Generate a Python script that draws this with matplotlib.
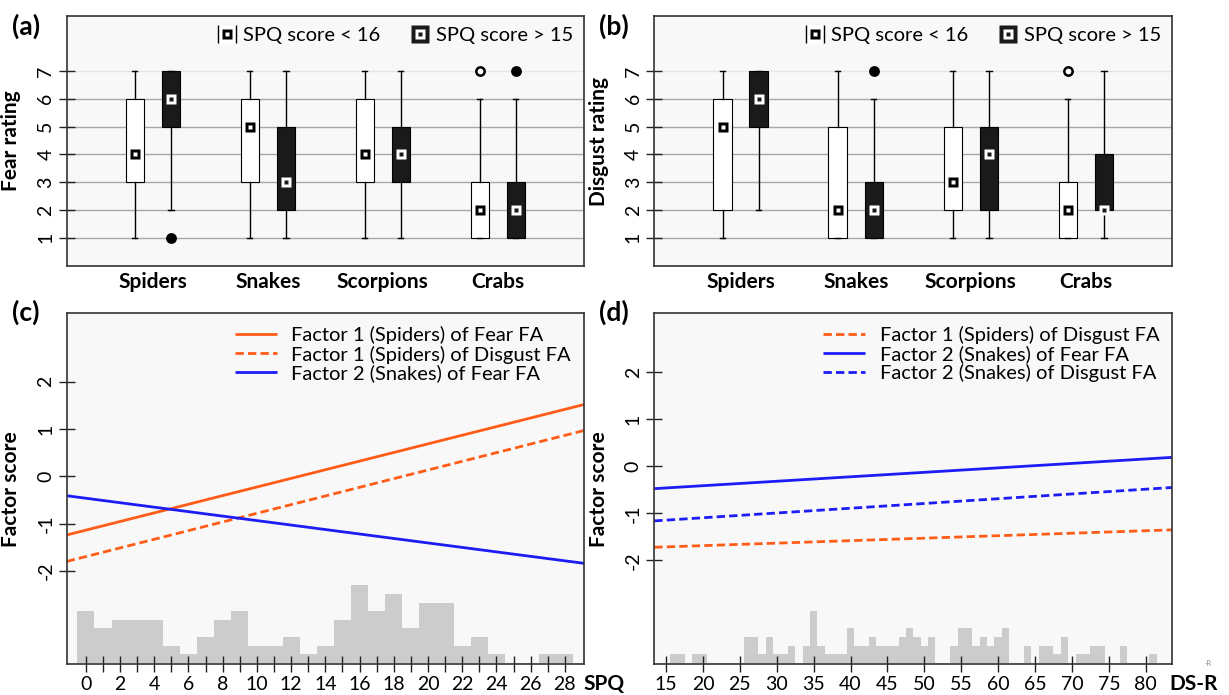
import numpy as np
import matplotlib
matplotlib.use("Agg")
import matplotlib.pyplot as plt
from matplotlib.lines import Line2D
from matplotlib.path import Path
from matplotlib.legend_handler import HandlerTuple

plt.rcParams['font.family'] = ['Lato', 'DejaVu Sans']
plt.rcParams['axes.unicode_minus'] = False

# ---- data ----
categories = ['Spiders', 'Snakes', 'Scorpions', 'Crabs']
# (lower whisker, Q1, median, Q3, upper whisker)
fear_low = [(1, 3, 4, 6, 7), (1, 3, 5, 6, 7), (1, 3, 4, 6, 7), (1, 1, 2, 3, 6)]
fear_low_out = [[], [], [], [7]]
fear_high = [(2, 5, 6, 7, 7), (1, 2, 3, 5, 7), (1, 3, 4, 5, 7), (1, 1, 2, 3, 6)]
fear_high_out = [[1], [], [], [7]]
disgust_low = [(1, 2, 5, 6, 7), (1, 1, 2, 5, 7), (1, 2, 3, 5, 7), (1, 1, 2, 3, 6)]
disgust_low_out = [[], [], [], [7]]
disgust_high = [(2, 5, 6, 7, 7), (1, 1, 2, 3, 6), (1, 2, 4, 5, 7), (1, 2, 2, 4, 7)]
disgust_high_out = [[], [7], [], []]

spq_values = list(range(0, 29))
spq_counts = [6, 4, 5, 5, 5, 2, 1, 3, 5, 6, 2, 2, 3, 1, 2, 5, 9, 6, 8, 4, 7, 7, 2, 3, 1, 0, 0, 1, 1]
dsr_values = list(range(16, 82))
dsr_counts = [1, 1, 0, 1, 1, 0, 0, 0, 0, 0, 3, 3, 1, 3, 1, 1, 2, 0, 2, 6,
              2, 1, 1, 1, 4, 2, 2, 3, 2, 2, 2, 3, 4, 3, 2, 3, 0, 0, 2, 4,
              4, 2, 3, 2, 3, 4, 0, 0, 2, 0, 2, 2, 1, 3, 0, 1, 1, 2, 2, 0,
              0, 2, 0, 0, 0, 1]

# fitted lines, value at the left and right end of the x range
spq_range = [-1.12, 29.12]
c_fear_f1 = [-1.24, 1.52]
c_disgust_f1 = [-1.80, 0.97]
c_fear_f2 = [-0.41, -1.84]
dsr_range = [13.4, 83.6]
d_disgust_f1 = [-1.72, -1.35]
d_fear_f2 = [-0.475, 0.19]
d_disgust_f2 = [-1.16, -0.45]

# ---- figure ----
W, H = 1229, 695
fig = plt.figure(figsize=(W / 100, H / 100), dpi=100)
BG = '#f8f8f8'
ORANGE = '#ff5d17'
BLUE = '#1c1cf5'
DARK = '#1a1a1a'


def rect(l, r, t, b):
    return [l / W, 1 - b / H, (r - l) / W, (b - t) / H]


def style_axes(ax):
    for s in ax.spines.values():
        s.set_color('#333333')
        s.set_linewidth(1.2)
    ax.tick_params(direction='inout', length=11, width=1, labelsize=14, color='#222222', pad=3)


def side_labels(ax, values):
    # R-style y tick labels, written sideways
    ax.set_yticks(values)
    ax.tick_params(axis='y', labelleft=False)
    trans = ax.get_yaxis_transform()
    for v in values:
        ax.text(-0.024, v, str(v), transform=trans, rotation=90, fontsize=14,
                ha='right', va='center', rotation_mode='default')


bars_path = Path([(-1, -1), (-1, 1), (1, -1), (1, 1)],
                 [Path.MOVETO, Path.LINETO, Path.MOVETO, Path.LINETO])


def box_panel(ax, low, low_out, high, high_out, ylabel):
    ax.set_facecolor(BG)
    for v in range(1, 8):
        ax.axhline(v, color='#e6e6e6' if v == 7 else '#a8a8a8', lw=1, zorder=0)
    pos = np.arange(1, len(categories) + 1)
    groups = [(low, low_out, -0.157, 'white'), (high, high_out, 0.157, DARK)]
    for stats, outs, off, face in groups:
        bstats = [dict(whislo=s[0], q1=s[1], med=s[2], q3=s[3], whishi=s[4], fliers=o)
                  for s, o in zip(stats, outs)]
        ax.bxp(bstats, positions=pos + off, widths=0.16, patch_artist=True, capwidths=0.045,
               boxprops=dict(facecolor=face, edgecolor='black', linewidth=0.8),
               whiskerprops=dict(color='black', linewidth=1),
               capprops=dict(color='black', linewidth=1),
               medianprops=dict(linewidth=0),
               flierprops=dict(marker='o', markersize=6, markerfacecolor='white' if face == 'white' else 'black',
                               markeredgecolor='black', markeredgewidth=1.8),
               manage_ticks=False)
        meds = [s[2] for s in stats]
        if face == 'white':
            ax.plot(pos + off, meds, 's', ms=7, mfc='black', mec='none', zorder=5)
            ax.plot(pos + off, meds, 's', ms=3.2, mfc='white', mec='none', zorder=6)
        else:
            ax.plot(pos + off, meds, 's', ms=7.5, mfc='white', mec='none', zorder=5)
            ax.plot(pos + off, meds, 's', ms=2.8, mfc=DARK, mec='none', zorder=6)
    style_axes(ax)
    ax.set_xlim(0.25, 4.75)
    ax.set_ylim(-0.02, 8.98)
    side_labels(ax, list(range(1, 8)))
    ax.set_xticks(pos)
    ax.set_xticklabels(categories, fontsize=15, fontweight='bold')
    ax.tick_params(axis='x', length=0, pad=4)
    ax.set_ylabel(ylabel, fontsize=15, fontweight='bold')
    ax.yaxis.set_label_coords(-0.088, 0.5)

    white_h = (Line2D([], [], ls='none', marker='s', ms=13, mfc='white', mec='none'),
               Line2D([], [], ls='none', marker=bars_path, ms=13, mfc='none', mec='black', mew=1),
               Line2D([], [], ls='none', marker='s', ms=7, mfc='black', mec='none'),
               Line2D([], [], ls='none', marker='s', ms=3.2, mfc='white', mec='none'))
    black_h = (Line2D([], [], ls='none', marker='s', ms=13.5, mfc=DARK, mec='none'),
               Line2D([], [], ls='none', marker='s', ms=7, mfc='white', mec='none'),
               Line2D([], [], ls='none', marker='s', ms=2.8, mfc=DARK, mec='none'))
    ax.legend([white_h, black_h], ['SPQ score < 16', 'SPQ score > 15'], ncol=2, loc='upper right',
              frameon=False, fontsize=14.5, handler_map={tuple: HandlerTuple(ndivide=1)},
              handlelength=0.9, handletextpad=0.35, columnspacing=1.5, borderaxespad=0.15)


def line_panel(ax, xr, lines, hist_x, hist_y, xlim, ylim, xticks, xticklabels):
    hx = ax.twinx()
    hx.bar(hist_x, hist_y, width=1.0, color='#cccccc', edgecolor='none')
    hx.set_ylim(-0.15, 40.7)
    hx.set_yticks([])
    for s in hx.spines.values():
        s.set_visible(False)
    hx.patch.set_visible(True)
    hx.set_facecolor(BG)
    ax.set_zorder(hx.get_zorder() + 1)
    ax.patch.set_visible(False)
    for ys, color, dashed, label in lines:
        ln, = ax.plot(xr, ys, color=color, lw=2, label=label, solid_capstyle='butt')
        if dashed:
            ln.set_dashes((3, 1.5))
    style_axes(ax)
    ax.set_xlim(*xlim)
    ax.set_ylim(*ylim)
    side_labels(ax, [-2, -1, 0, 1, 2])
    ax.set_xticks(xticks)
    ax.set_xticklabels(xticklabels, fontsize=14)
    ax.set_ylabel('Factor score', fontsize=15, fontweight='bold')
    ax.yaxis.set_label_coords(-0.088, 0.5)
    ax.legend(loc='upper right', frameon=False, fontsize=14.5, handlelength=2.1,
              handletextpad=0.7, labelspacing=0.05, borderaxespad=0.25)


ax_a = fig.add_axes(rect(66.7, 584, 16, 266))
ax_b = fig.add_axes(rect(654.3, 1172.3, 16, 266))
ax_c = fig.add_axes(rect(66.7, 584, 313.3, 664))
ax_d = fig.add_axes(rect(654.3, 1172.3, 313.3, 664))

box_panel(ax_a, fear_low, fear_low_out, fear_high, fear_high_out, 'Fear rating')
box_panel(ax_b, disgust_low, disgust_low_out, disgust_high, disgust_high_out, 'Disgust rating')

line_panel(ax_c, spq_range,
           [(c_fear_f1, ORANGE, False, 'Factor 1 (Spiders) of Fear FA'),
            (c_disgust_f1, ORANGE, True, 'Factor 1 (Spiders) of Disgust FA'),
            (c_fear_f2, BLUE, False, 'Factor 2 (Snakes) of Fear FA')],
           spq_values, spq_counts, spq_range, (-3.97, 3.45),
           spq_values, [str(v) if v % 2 == 0 else '' for v in spq_values])
line_panel(ax_d, dsr_range,
           [(d_disgust_f1, ORANGE, True, 'Factor 1 (Spiders) of Disgust FA'),
            (d_fear_f2, BLUE, False, 'Factor 2 (Snakes) of Fear FA'),
            (d_disgust_f2, BLUE, True, 'Factor 2 (Snakes) of Disgust FA')],
           dsr_values, dsr_counts, dsr_range, (-4.2, 3.25),
           list(range(15, 81, 5)), [str(v) for v in range(15, 81, 5)])

for txt, x, y in [('(a)', 12, 26), ('(b)', 599, 26), ('(c)', 12, 312), ('(d)', 599, 312)]:
    fig.text(x / W, 1 - y / H, txt, fontsize=19, fontweight='bold', ha='left', va='center')
fig.text(604 / W, 1 - 684 / H, 'SPQ', fontsize=15, fontweight='bold', ha='center', va='center')
fig.text(1194 / W, 1 - 684 / H, 'DS-R', fontsize=15, fontweight='bold', ha='center', va='center')
fig.text(1208 / W, 1 - 663 / H, '-R', fontsize=5, color='#888888', ha='center', va='center')

fig.savefig('out.png', dpi=100, facecolor='white')
